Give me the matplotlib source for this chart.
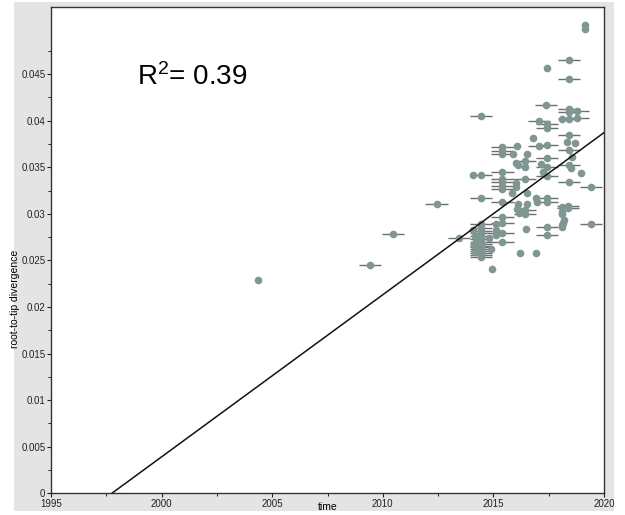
import numpy as np
import matplotlib.pyplot as plt
import matplotlib.patches as mpatches

plt.rcParams['font.family'] = ['Liberation Sans', 'DejaVu Sans']
plt.rcParams['mathtext.fontset'] = 'custom'
plt.rcParams['mathtext.rm'] = 'Liberation Sans'
plt.rcParams['mathtext.it'] = 'Liberation Sans:italic'

# tips with exact sampling dates (no error bar)
exact_time = [2004.36, 2019.13, 2019.13, 2017.44, 2016.80, 2018.32, 2018.69, 2016.06,
              2015.90, 2016.54, 2018.57, 2016.01, 2016.09, 2016.43, 2017.14, 2018.50,
              2017.22, 2018.95, 2014.06, 2016.01, 2016.00, 2015.86, 2016.50, 2016.92,
              2016.95, 2016.13, 2016.54, 2016.06, 2016.24, 2016.15, 2018.12, 2018.12,
              2018.12, 2018.18, 2018.14, 2018.12, 2018.12, 2015.13, 2015.13, 2015.13,
              2014.81, 2014.88, 2016.47, 2016.19, 2016.91, 2014.93, 2014.10, 2014.15,
              2014.20, 2014.12, 2014.25, 2014.18, 2018.12]
exact_div = [0.0229, 0.05025, 0.04989, 0.0456, 0.0381, 0.03773, 0.03755, 0.03726,
             0.0364, 0.0364, 0.03605, 0.03547, 0.03522, 0.03498, 0.03533, 0.03487,
             0.0345, 0.03433, 0.03415, 0.03326, 0.03283, 0.03225, 0.03219, 0.03165,
             0.03129, 0.03104, 0.03104, 0.03047, 0.03029, 0.0301, 0.03075, 0.03022,
             0.02997, 0.02932, 0.02903, 0.02879, 0.02854, 0.0289, 0.02825, 0.02771,
             0.02736, 0.02618, 0.02836, 0.02582, 0.02582, 0.02403, 0.0283, 0.0276,
             0.0271, 0.0267, 0.0263, 0.0259, 0.0402]

# tips dated to the year only (+-0.5 yr bar)
year_time = [2009.44, 2010.45, 2012.43, 2018.42, 2018.42, 2017.37, 2014.44, 2018.42,
             2018.42, 2018.80, 2018.80, 2018.42, 2017.07, 2017.41, 2017.41, 2017.07,
             2017.41, 2018.42, 2015.41, 2015.41, 2015.41, 2018.42, 2017.44, 2016.43,
             2017.41, 2018.42, 2015.41, 2017.44, 2014.44, 2015.41, 2015.41, 2015.41,
             2015.41, 2016.43, 2018.42, 2019.40, 2014.44, 2015.41, 2017.41, 2017.41,
             2016.43, 2016.43, 2018.39, 2018.39, 2019.40, 2015.41, 2015.41, 2015.41,
             2015.41, 2017.41, 2017.41, 2013.43,
             2014.44, 2014.44, 2014.44, 2014.44, 2014.44, 2014.44, 2014.44, 2014.44,
             2014.44, 2014.44, 2014.44, 2014.44, 2014.44, 2014.44, 2014.44]
year_div = [0.0245, 0.0278, 0.0311, 0.04656, 0.04445, 0.04166, 0.04048, 0.0412,
            0.0409, 0.0410, 0.0403, 0.04013, 0.03998, 0.03962, 0.03916, 0.0373,
            0.03737, 0.03844, 0.03719, 0.03676, 0.03637, 0.0369, 0.03594, 0.03569,
            0.03498, 0.03522, 0.03451, 0.03405, 0.03415, 0.03369, 0.03337, 0.03297,
            0.03265, 0.03369, 0.03337, 0.03283, 0.03165, 0.03129, 0.03165, 0.03122,
            0.0304, 0.02997, 0.03083, 0.03058, 0.0289, 0.02968, 0.02897, 0.0279,
            0.027, 0.02854, 0.02771, 0.02736,
            0.0289, 0.0285, 0.0282, 0.0279, 0.0276, 0.0273, 0.0270, 0.0268,
            0.0266, 0.0264, 0.0262, 0.0260, 0.0258, 0.0256, 0.0254]
year_err = 0.5

# regression line (x-intercept = root date)
root_date = 1997.75
rate = 0.00174
r_squared = 0.39

pt_color = '#7f9692'

fig = plt.figure(figsize=(6.25, 5.15), dpi=100)
#grey frame behind the plot area
fig.patches.append(mpatches.Rectangle((0.0224, 0.0078), 0.96, 0.988,
                                      transform=fig.transFigure,
                                      facecolor='#e4e4e4', edgecolor='none', zorder=-10))
ax = fig.add_axes([0.0816, 0.0421, 0.8848, 0.9443])
ax.set_zorder(5)
ax.set_facecolor('white')

#error bars under the points
ax.errorbar(year_time, year_div, xerr=year_err, fmt='none',
            ecolor='#6e6e6e', elinewidth=1, capsize=0, zorder=2)
ax.plot(year_time, year_div, 'o', color=pt_color, ms=5.5, mec='none', zorder=3)
ax.plot(exact_time, exact_div, 'o', color=pt_color, ms=5.5, mec='none', zorder=3)

xs = np.array([root_date, 2020.0])
ax.plot(xs, rate * (xs - root_date), color='#111111', lw=1.1, zorder=4)

ax.text(0.155, 0.855, f"R$^2$= {r_squared:.2f}", transform=ax.transAxes,
        fontsize=20, va='center', ha='left')

ax.set_xlim(1995, 2020)
ax.set_ylim(0, 0.0522)
ax.set_xticks([1995, 2000, 2005, 2010, 2015, 2020])
ax.set_xticks(np.arange(1997.5, 2020, 5), minor=True)
ax.set_yticks(np.arange(0, 0.0451, 0.005))
ax.set_yticklabels(['0', '0.005', '0.01', '0.015', '0.02', '0.025',
                    '0.03', '0.035', '0.04', '0.045'])
ax.set_yticks(np.arange(0.0025, 0.05, 0.005), minor=True)
ax.tick_params(which='major', length=3, width=0.8, labelsize=7, pad=1, colors='#222222')
ax.tick_params(which='minor', length=2, width=0.6)
for s in ax.spines.values():
    s.set_color('#333333')
    s.set_linewidth(1)

ax.set_xlabel("time", fontsize=7.5)
ax.xaxis.set_label_coords(0.5, -0.018)
ax.set_ylabel("root-to-tip divergence", fontsize=7.5)
ax.yaxis.set_label_coords(-0.056, 0.40)

plt.savefig("out.png", dpi=100)
plt.close()
